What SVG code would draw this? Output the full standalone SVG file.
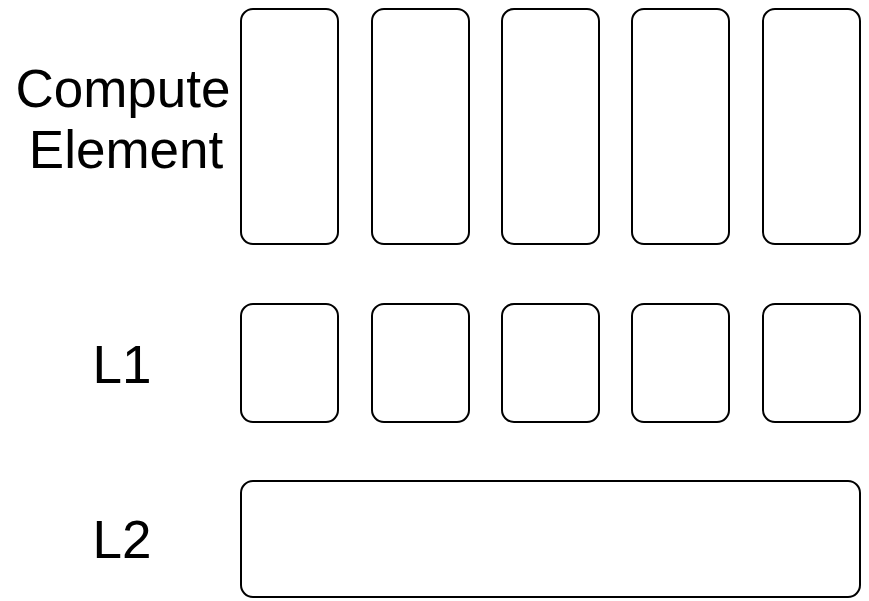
<svg xmlns="http://www.w3.org/2000/svg" width="869" height="601" viewBox="0 0 869 601">
<style>
.box{fill:#ffffff;stroke:#000000;stroke-width:2}
.lbl{font-family:"Liberation Sans",Arial,Helvetica,sans-serif;font-size:53px;fill:#000000;text-anchor:middle}
</style>
<rect width="869" height="601" fill="#ffffff"/>
<g id="labels">
<text class="lbl" x="123" y="107">Compute</text>
<text class="lbl" x="126" y="168">Element</text>
<text class="lbl" x="122" y="383">L1</text>
<text class="lbl" x="122" y="558">L2</text>
</g>
<g id="ce1"><rect class="box" x="241" y="9" width="97" height="235" rx="12"/></g>
<g id="ce2"><rect class="box" x="372" y="9" width="97" height="235" rx="12"/></g>
<g id="ce3"><rect class="box" x="502" y="9" width="97" height="235" rx="12"/></g>
<g id="ce4"><rect class="box" x="632" y="9" width="97" height="235" rx="12"/></g>
<g id="ce5"><rect class="box" x="763" y="9" width="97" height="235" rx="12"/></g>
<g id="l1a"><rect class="box" x="241" y="304" width="97" height="118" rx="12"/></g>
<g id="l1b"><rect class="box" x="372" y="304" width="97" height="118" rx="12"/></g>
<g id="l1c"><rect class="box" x="502" y="304" width="97" height="118" rx="12"/></g>
<g id="l1d"><rect class="box" x="632" y="304" width="97" height="118" rx="12"/></g>
<g id="l1e"><rect class="box" x="763" y="304" width="97" height="118" rx="12"/></g>
<g id="l2"><rect class="box" x="241" y="481" width="619" height="116" rx="12"/></g>
<g id="connectors"></g>
</svg>
